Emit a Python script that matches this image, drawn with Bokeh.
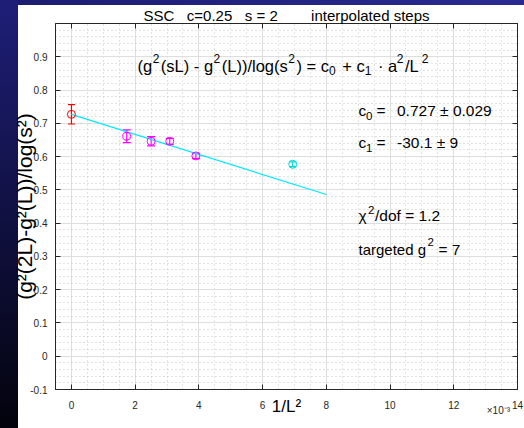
from bokeh.plotting import figure
from bokeh.models import (ColumnDataSource, Whisker, TeeHead, Label, Range1d,
                          FixedTicker, CustomJSTickFormatter, LinearAxis)
from bokeh.embed import file_html
from bokeh.resources import INLINE

# ---------------- data ----------------
extrap_x = [0.0]
extrap_y = [0.727]
extrap_err = [0.029]

step_x = [1 / 24**2, 1 / 20**2, 1 / 18**2, 1 / 16**2]
step_y = [0.661, 0.646, 0.646, 0.602]
step_err = [0.019, 0.014, 0.009, 0.008]

excl_x = [1 / 12**2]
excl_y = [0.577]
excl_err = [0.007]

fit_x = [0.0, 0.008]
fit_y = [0.727, 0.486]

x_ticks = [0, 0.002, 0.004, 0.006, 0.008, 0.010, 0.012, 0.014]
y_ticks = [-0.1, 0.0, 0.1, 0.2, 0.3, 0.4, 0.5, 0.6, 0.7, 0.8, 0.9]
x_minor = [i * 0.0005 for i in range(-1, 29)]
y_minor = [round(-0.1 + i * 0.02, 2) for i in range(0, 56)]

NB = "\u00a0"
title_txt = "SSC" + NB * 3 + "c=0.25" + NB * 3 + "s = 2" + NB * 8 + "interpolated steps"
xlabel_txt = "1/L\u00b2"
ylabel_txt = "(g\u00b2(2L)-g\u00b2(L))/log(s\u00b2)"
xscale_txt = "\u00d710\u207b\u00b3"

FONT = "Liberation Sans"
TICK_COL = "#262626"
X0, X1, Y0, Y1 = -0.0005, 0.014, -0.1, 1.0
FL, FT = 55, 23          # frame left / top in page pixels

p = figure(width=524, height=428, output_backend="svg", toolbar_location=None,
           x_range=Range1d(X0, X1), y_range=Range1d(Y0, Y1),
           min_border_left=FL, min_border_right=7, min_border_top=FT,
           min_border_bottom=39)
p.border_fill_alpha = 0
p.background_fill_color = "white"
p.outline_line_color = TICK_COL
p.outline_line_width = 1

p.title.text = title_txt
p.title.align = "center"
p.title.text_font = FONT
p.title.text_font_size = "15px"
p.title.text_font_style = "normal"
p.title.text_color = "black"
p.title.standoff = 0

fmt_x = CustomJSTickFormatter(code="return (tick*1000).toFixed(0);")
fmt_y = CustomJSTickFormatter(code="return Math.abs(tick)<1e-9 ? '0' : tick.toFixed(1);")

for ax, ticks, minor, fmt in [(p.xaxis[0], x_ticks, x_minor, fmt_x),
                              (p.yaxis[0], y_ticks, y_minor, fmt_y)]:
    ax.ticker = FixedTicker(ticks=ticks, minor_ticks=minor)
    ax.formatter = fmt
    ax.major_tick_in = 5
    ax.major_tick_out = 0
    ax.minor_tick_line_color = None
    ax.axis_line_color = TICK_COL
    ax.major_tick_line_color = TICK_COL
    ax.major_label_text_font = FONT
    ax.major_label_text_font_size = "10px"
    ax.major_label_text_color = TICK_COL
    ax.axis_label_text_font = FONT
    ax.axis_label_text_font_style = "normal"
    ax.axis_label_text_color = "black"
p.xaxis.major_label_standoff = 7
p.yaxis.major_label_standoff = 4
p.xaxis.axis_label = xlabel_txt
p.xaxis.axis_label_text_font_size = "17px"
p.xaxis.axis_label_standoff = -15
p.yaxis.axis_label = ylabel_txt
p.yaxis.axis_label_text_font_size = "21px"
p.yaxis.axis_label_standoff = -9

# box-style axes on top and right (ticks only)
blank = CustomJSTickFormatter(code="return '';")
for loc, ticks in [("right", y_ticks), ("above", x_ticks)]:
    ax = LinearAxis(ticker=FixedTicker(ticks=ticks), formatter=blank)
    ax.major_label_standoff = 0
    ax.major_tick_in = 5
    ax.major_tick_out = 0
    ax.minor_tick_line_color = None
    ax.axis_line_color = TICK_COL
    ax.major_tick_line_color = TICK_COL
    p.add_layout(ax, loc)

# exponent note under the right end of the x axis (label-only axis pulled up)
sc = LinearAxis(ticker=FixedTicker(ticks=[0.0134]),
                formatter=CustomJSTickFormatter(code=f"return '{xscale_txt}';"))
sc.axis_line_color = None
sc.major_tick_line_color = None
sc.minor_tick_line_color = None
sc.major_tick_in = 0
sc.major_tick_out = 0
sc.major_label_standoff = -14
sc.major_label_text_font = FONT
sc.major_label_text_font_size = "10px"
sc.major_label_text_color = TICK_COL
p.add_layout(sc, "below")

for g, ticks, minor in [(p.xgrid[0], x_ticks, x_minor), (p.ygrid[0], y_ticks, y_minor)]:
    g.ticker = FixedTicker(ticks=ticks, minor_ticks=minor)
    g.grid_line_color = "#dedede"
    g.grid_line_width = 1
    g.minor_grid_line_color = "#c4c4c4"
    g.minor_grid_line_dash = "1 3"
    g.minor_grid_line_width = 1

# fit line
p.line(fit_x, fit_y, line_color="#00e8ff", line_width=1.2)

def errorbars(xs, ys, errs, color, size):
    src = ColumnDataSource(dict(x=xs, y=ys,
                                lo=[y - e for y, e in zip(ys, errs)],
                                hi=[y + e for y, e in zip(ys, errs)]))
    w = Whisker(base="x", lower="lo", upper="hi", source=src, dimension="height",
                line_color=color, line_width=1.2,
                lower_head=TeeHead(size=size, line_color=color, line_width=1.2),
                upper_head=TeeHead(size=size, line_color=color, line_width=1.2))
    p.add_layout(w)
    p.scatter("x", "y", source=src, marker="circle", size=8, fill_color=None,
              line_color=color, line_width=1)

errorbars(extrap_x, extrap_y, extrap_err, "#ff0000", 7)
errorbars(step_x, step_y, step_err, "#ff00ff", 8)
errorbars(excl_x, excl_y, excl_err, "#00d8d8", 7)

# ---------------- texts inside the axes (rich text built from pieces) ----------------
WID = {" ": 278, "\u00a0": 278, "(": 333, ")": 333, "-": 333, "/": 278, ".": 278,
       "=": 584, "+": 584, "\u00b1": 549, "\u00b7": 278, "\u00d7": 584,
       "a": 556, "c": 500, "d": 556, "e": 556, "f": 278, "g": 556, "i": 222,
       "l": 222, "n": 556, "o": 556, "p": 556, "r": 333, "s": 500, "t": 278,
       "L": 556, "S": 667, "C": 722, "\u03c7": 520}

def tw(s, size):
    return sum(WID.get(ch, 556) for ch in s) * size / 1000.0

def put(txt, px, py, size, color="black"):
    p.add_layout(Label(x=X0, y=Y1, x_offset=px - FL, y_offset=-(py - FT), text=txt,
                       text_font=FONT, text_font_size=f"{size}px", text_color=color,
                       text_align="left", text_baseline="alphabetic"))

def rich(segs, px, py):
    """segs: (text, size, shift, gap_before); shift > 0 raises, < 0 lowers."""
    pos = 0.0
    for t, s, sh, gap in segs:
        pos += gap
        put(t, px + pos, py - sh, s)
        pos += tw(t, s)

F, S = 16.5, 12
rich([("(g", F, 0, 0), ("2", S, 7, 0.5), ("(sL) - g", F, 0, 1.5), ("2", S, 7, 0.5),
      ("(L))/log(s", F, 0, 1.5), ("2", S, 7, 0.5), (") = c", F, 0, 1.5),
      ("0", S, -5, 0), (NB + "+ c", F, 0, 2), ("1", S, -5, 0),
      (NB + "\u00b7 a", F, 0, 2), ("2", S, 7, 0.5), ("/L", F, 0, 1.5), ("2", S, 7, 3)],
     137, 65)

# fit results
F2, S2 = 15.5, 11.5
put("c", 358, 110, F2); put("0", 365.5, 115, S2); put("=", 376, 110, F2)
put("0.727 \u00b1 0.029", 396.5, 110, F2)
put("c", 358, 142, F2); put("1", 365.5, 147, S2); put("=", 376, 142, F2)
put("-30.1 \u00b1 9", 396.5, 142, F2)
put("\u03c7", 358, 215, F2); put("2", 367.5, 209, S2); put("/dof = 1.2", 374.5, 215, F2)
put("targeted g", 358, 249, 15); put("2", 427, 241, S2); put("= 7", 438, 249, F2)

html = file_html(p, INLINE, title="chart")
css = """<style>
html{height:100%;}
body{background-color:#ffffff;
 background-image:linear-gradient(to bottom,#1e1e78,#03030c),linear-gradient(to right,#1c1c70,#2a2a92);
 background-size:18px 100%,100% 5px;background-repeat:no-repeat;background-position:0 0,0 0;}
</style></head>"""
html = html.replace("</head>", css, 1)
open("out.html", "w").write(html)
